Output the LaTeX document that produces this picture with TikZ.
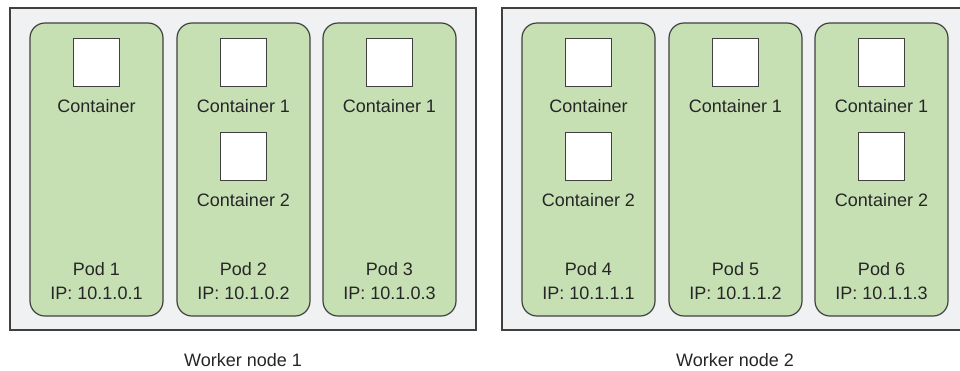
\documentclass[tikz,border=0pt]{standalone}
\usepackage{fontspec}
\setmainfont{Liberation Sans}
\definecolor{podgreen}{RGB}{198,224,180}
\definecolor{wfill}{RGB}{240,241,243}
\definecolor{txt}{RGB}{38,38,38}
\definecolor{edge}{RGB}{64,64,64}
\begin{document}
\begin{tikzpicture}[x=1pt,y=-1pt,font=\fontsize{18}{22}\selectfont,
  worker/.style={draw=edge,line width=1.3pt,fill=wfill},
  pod/.style={draw=edge,line width=1.2pt,fill=podgreen,rounded corners=15pt},
  ctr/.style={draw=edge,line width=1pt,fill=white,minimum width=46pt,minimum height=48pt,inner sep=0pt},
  lbl/.style={text=txt,inner sep=0pt}]
\useasboundingbox (0,0) rectangle (960,370);
% worker nodes
\draw[worker] (10,8) coordinate (w1a) rectangle (476,330) coordinate (w1b);
\draw[worker] (502,8) coordinate (w2a) rectangle (968,330) coordinate (w2b);
\node[lbl] (w1lbl) at (243,360) {Worker node 1};
\node[lbl] (w2lbl) at (735,360) {Worker node 2};
% pods
\foreach \n/\x/\ip in {1/30/10.1.0.1,2/177/10.1.0.2,3/323/10.1.0.3,4/522/10.1.1.1,5/669/10.1.1.2,6/815/10.1.1.3}{
  \draw[pod] (\x,23) rectangle (\x+133,316);
  \node[lbl] (pod\n name) at (\x+66.5,269) {Pod \n};
  \node[lbl] (pod\n ip) at (\x+66.5,293) {IP: \ip};
}
% containers (first row)
\foreach \n/\x/\t in {1/30/Container,2/177/Container 1,3/323/Container 1,4/522/Container,5/669/Container 1,6/815/Container 1}{
  \node[ctr] (c\n a) at (\x+66.5,62) {};
  \node[lbl] (c\n alab) at (\x+66.5,106) {\t};
}
% containers (second row)
\foreach \n/\x in {2/177,4/522,6/815}{
  \node[ctr] (c\n b) at (\x+66.5,156.5) {};
  \node[lbl] (c\n blab) at (\x+66.5,200) {Container 2};
}
\end{tikzpicture}
\end{document}
